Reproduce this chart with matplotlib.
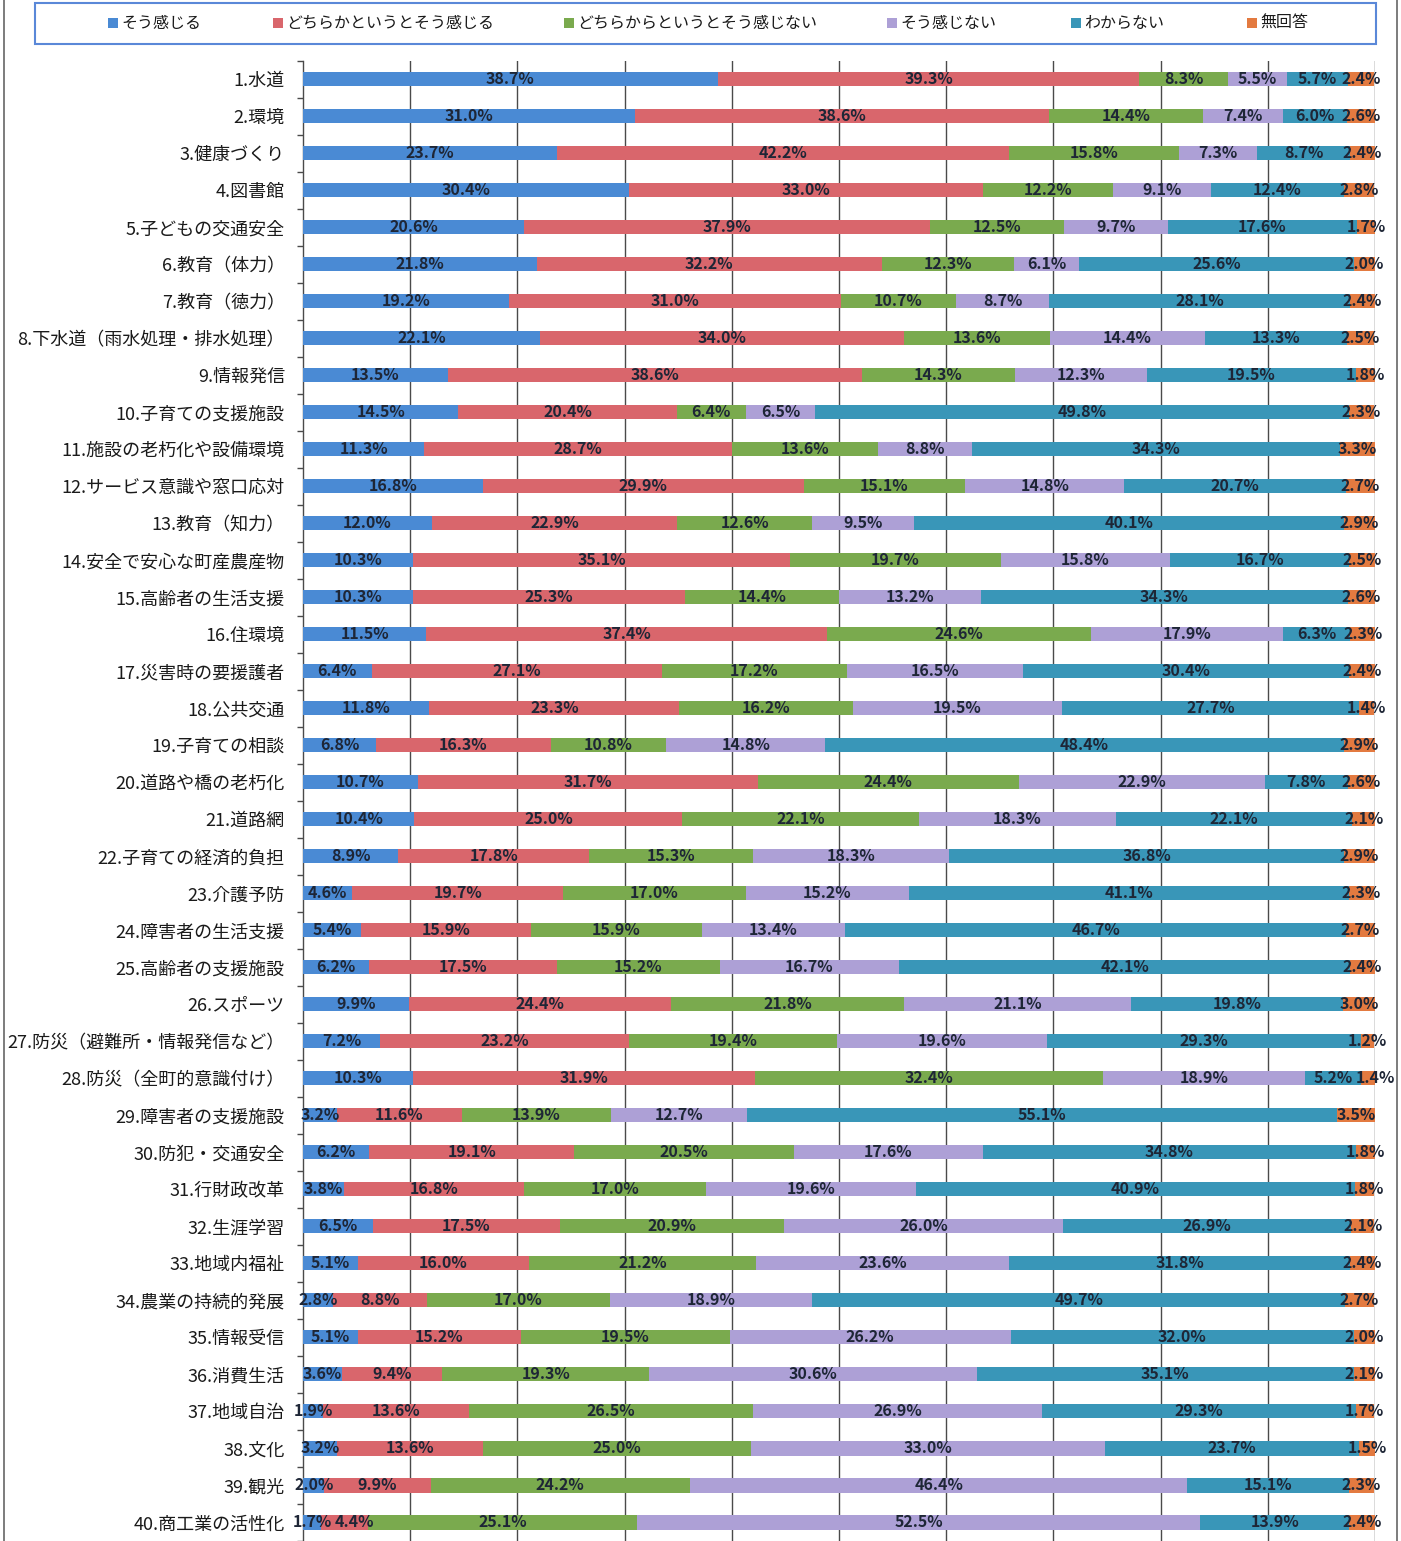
import numpy as np
import matplotlib
matplotlib.use("Agg")
import matplotlib.pyplot as plt
from matplotlib.patches import Rectangle
from matplotlib.lines import Line2D

plt.rcParams['font.family'] = ['Noto Sans CJK JP', 'DejaVu Sans']

# --- Data ---
categories = [
    "1.水道", "2.環境", "3.健康づくり", "4.図書館", "5.子どもの交通安全",
    "6.教育（体力）", "7.教育（徳力）", "8.下水道（雨水処理・排水処理）", "9.情報発信",
    "10.子育ての支援施設", "11.施設の老朽化や設備環境", "12.サービス意識や窓口応対",
    "13.教育（知力）", "14.安全で安心な町産農産物", "15.高齢者の生活支援", "16.住環境",
    "17.災害時の要援護者", "18.公共交通", "19.子育ての相談", "20.道路や橋の老朽化",
    "21.道路網", "22.子育ての経済的負担", "23.介護予防", "24.障害者の生活支援",
    "25.高齢者の支援施設", "26.スポーツ", "27.防災（避難所・情報発信など）",
    "28.防災（全町的意識付け）", "29.障害者の支援施設", "30.防犯・交通安全",
    "31.行財政改革", "32.生涯学習", "33.地域内福祉", "34.農業の持続的発展",
    "35.情報受信", "36.消費生活", "37.地域自治", "38.文化", "39.観光", "40.商工業の活性化",
]

series_names = ["そう感じる", "どちらかというとそう感じる", "どちらからというとそう感じない",
                "そう感じない", "わからない", "無回答"]

sou_kanjiru = [38.7, 31.0, 23.7, 30.4, 20.6, 21.8, 19.2, 22.1, 13.5, 14.5,
               11.3, 16.8, 12.0, 10.3, 10.3, 11.5, 6.4, 11.8, 6.8, 10.7,
               10.4, 8.9, 4.6, 5.4, 6.2, 9.9, 7.2, 10.3, 3.2, 6.2,
               3.8, 6.5, 5.1, 2.8, 5.1, 3.6, 1.9, 3.2, 2.0, 1.7]
dochiraka_kanjiru = [39.3, 38.6, 42.2, 33.0, 37.9, 32.2, 31.0, 34.0, 38.6, 20.4,
                     28.7, 29.9, 22.9, 35.1, 25.3, 37.4, 27.1, 23.3, 16.3, 31.7,
                     25.0, 17.8, 19.7, 15.9, 17.5, 24.4, 23.2, 31.9, 11.6, 19.1,
                     16.8, 17.5, 16.0, 8.8, 15.2, 9.4, 13.6, 13.6, 9.9, 4.4]
dochiraka_kanjinai = [8.3, 14.4, 15.8, 12.2, 12.5, 12.3, 10.7, 13.6, 14.3, 6.4,
                      13.6, 15.1, 12.6, 19.7, 14.4, 24.6, 17.2, 16.2, 10.8, 24.4,
                      22.1, 15.3, 17.0, 15.9, 15.2, 21.8, 19.4, 32.4, 13.9, 20.5,
                      17.0, 20.9, 21.2, 17.0, 19.5, 19.3, 26.5, 25.0, 24.2, 25.1]
sou_kanjinai = [5.5, 7.4, 7.3, 9.1, 9.7, 6.1, 8.7, 14.4, 12.3, 6.5,
                8.8, 14.8, 9.5, 15.8, 13.2, 17.9, 16.5, 19.5, 14.8, 22.9,
                18.3, 18.3, 15.2, 13.4, 16.7, 21.1, 19.6, 18.9, 12.7, 17.6,
                19.6, 26.0, 23.6, 18.9, 26.2, 30.6, 26.9, 33.0, 46.4, 52.5]
wakaranai = [5.7, 6.0, 8.7, 12.4, 17.6, 25.6, 28.1, 13.3, 19.5, 49.8,
             34.3, 20.7, 40.1, 16.7, 34.3, 6.3, 30.4, 27.7, 48.4, 7.8,
             22.1, 36.8, 41.1, 46.7, 42.1, 19.8, 29.3, 5.2, 55.1, 34.8,
             40.9, 26.9, 31.8, 49.7, 32.0, 35.1, 29.3, 23.7, 15.1, 13.9]
mukaito = [2.4, 2.6, 2.4, 2.8, 1.7, 2.0, 2.4, 2.5, 1.8, 2.3,
           3.3, 2.7, 2.9, 2.5, 2.6, 2.3, 2.4, 1.4, 2.9, 2.6,
           2.1, 2.9, 2.3, 2.7, 2.4, 3.0, 1.2, 1.4, 3.5, 1.8,
           1.8, 2.1, 2.4, 2.7, 2.0, 2.1, 1.7, 1.5, 2.3, 2.4]

series_values = [sou_kanjiru, dochiraka_kanjiru, dochiraka_kanjinai,
                 sou_kanjinai, wakaranai, mukaito]
colors = ["#4a8ad4", "#d9666c", "#7aaa4e", "#ada0d6", "#3996b8", "#e37a40"]

# --- Figure ---
W, H = 1401, 1541
fig = plt.figure(figsize=(W / 100, H / 100), dpi=100)
fig.patch.set_facecolor("white")

row_px = 37.05
top_px = 60.5
ax_left, ax_right = 303 / W, 1375 / W
ax = fig.add_axes([ax_left, 0, ax_right - ax_left, 1 - top_px / H])

y = np.arange(1, len(categories) + 1)
left = np.zeros(len(categories))
label_rows = [[] for _ in categories]
for name, vals, col in zip(series_names, series_values, colors):
    vals = np.array(vals)
    bars = ax.barh(y, vals, left=left, height=0.38, color=col, label=name, zorder=3)
    texts = ax.bar_label(bars, labels=[f"{v:.1f}%" for v in vals], label_type="center",
                         fontsize=11.5, fontweight="bold", color="#1e2636", zorder=4)
    for i, t in enumerate(texts):
        label_rows[i].append(t)
    left += vals

ax.set_xlim(0, 100)
ax.set_ylim(0.5 + (H - top_px) / row_px, 0.5)

# vertical gridlines
for gx in range(10, 101, 10):
    ax.axvline(gx, color="#4a4a4a", lw=1.0, zorder=1)

for s in ["top", "right", "bottom"]:
    ax.spines[s].set_visible(False)
ax.spines["left"].set_color("#4a4a4a")
ax.spines["left"].set_linewidth(1.0)

ax.set_xticks([])
ax.set_yticks(y)
ax.set_yticklabels(categories, fontsize=13, color="#1a1a1a")
ax.tick_params(axis="y", which="major", length=0, pad=13)
ax.set_yticks(np.arange(0.5, len(categories) + 1, 1), minor=True)
ax.tick_params(axis="y", which="minor", length=4, width=1, color="#4a4a4a", direction="out")

# push overlapping data labels apart (like Excel does for thin segments)
fig.canvas.draw()
renderer = fig.canvas.get_renderer()
for row in label_rows:
    prev_right = None
    for t in row:
        bb = t.get_window_extent(renderer)
        if prev_right is not None and bb.x0 < prev_right + 3:
            shift = prev_right + 3 - bb.x0
            dx, dy = t.xyann
            t.xyann = (dx + shift * 72 / fig.dpi, dy)
            prev_right = bb.x1 + shift
        else:
            prev_right = bb.x1

# chart area border (left/right)
fig.add_artist(Line2D([4 / W, 4 / W], [0, 1], color="#666666", lw=1.2))
fig.add_artist(Line2D([1397 / W, 1397 / W], [0, 1], color="#666666", lw=1.2))

# legend box
fig.add_artist(Rectangle((35 / W, 1 - 44 / H), (1376 - 35) / W, 41 / H,
                         fill=True, facecolor="white", edgecolor="#5a88d8", lw=1.5))
leg_x = [108, 273, 564, 887, 1071, 1247]
for lx, name, col in zip(leg_x, series_names, colors):
    fig.add_artist(Rectangle((lx / W, 1 - 28 / H), 10 / W, 10 / H, color=col, lw=0))
    fig.text((lx + 13) / W, 1 - 23.5 / H, name, fontsize=11.5, color="#1a1a1a",
             ha="left", va="center")

fig.savefig("out.png", dpi=100, facecolor="white")
